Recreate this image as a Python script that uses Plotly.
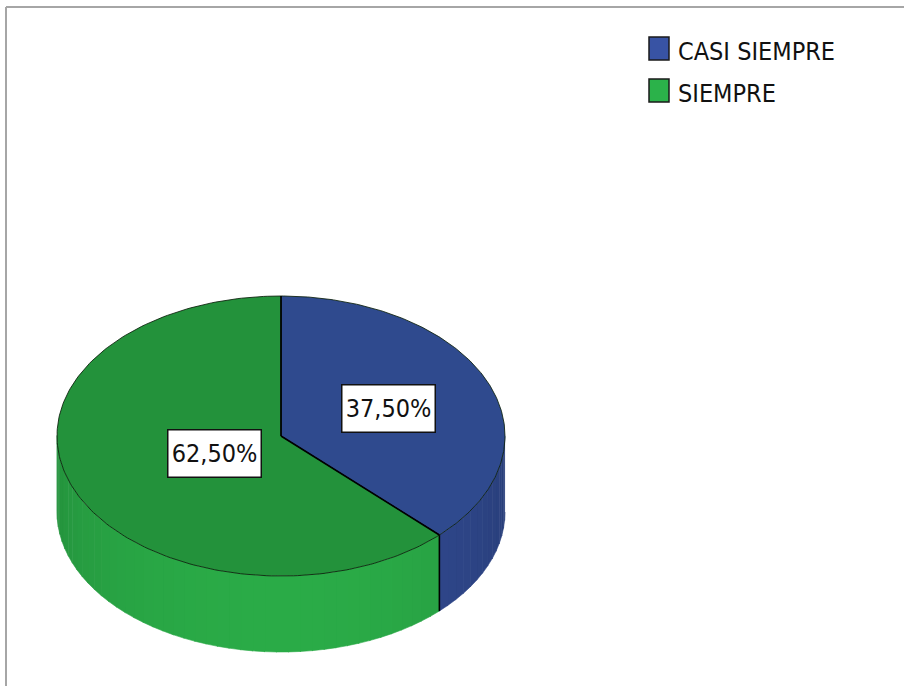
import numpy as np
import plotly.graph_objects as go

# Data
categories = ["CASI SIEMPRE", "SIEMPRE"]
percentages = [37.5, 62.5]

# Styling
top_colors = ["#2f4a8e", "#23923b"]
side_colors = ["#30498f", "#2aab47"]
legend_colors = ["#3853a4", "#2bb24a"]
label_radius = [0.52, 0.32]
FONT = "DejaVu Sans Condensed, Liberation Sans, sans-serif"

W, H = 904, 686
CX, CY, RX, RY, DEPTH = 281, 436, 224, 140, 76


def ellipse_pt(t, dy=0.0):
    """Point on the top rim at angle t (radians, clockwise from 12 o'clock)."""
    t = np.asarray(t)
    return CX + RX * np.sin(t), CY - RY * np.cos(t) + dy


def shade(hex_color, f):
    h = hex_color.lstrip("#")
    r, g, b = (int(h[i:i + 2], 16) for i in (0, 2, 4))
    r, g, b = (min(255, int(round(c * f))) for c in (r, g, b))
    return f"rgb({r},{g},{b})"


fig = go.Figure()

total = sum(percentages)
bounds = np.concatenate([[0.0], np.cumsum(percentages) / total * 2 * np.pi])

# Side wall of the disc (only the front half, 90°..270°, is visible)
for i in range(len(categories)):
    a0, a1 = max(bounds[i], np.pi / 2), min(bounds[i + 1], 3 * np.pi / 2)
    if a1 <= a0:
        continue
    n_strips = max(2, int((a1 - a0) / np.radians(3)))
    edges = np.linspace(a0, a1, n_strips + 1)
    for s in range(n_strips):
        ts = np.linspace(edges[s], edges[s + 1] + 0.004, 6)
        xt, yt = ellipse_pt(ts)
        xb, yb = ellipse_pt(ts[::-1], DEPTH)
        mid = 0.5 * (edges[s] + edges[s + 1])
        f = 0.84 + 0.16 * (-np.cos(mid))
        col = shade(side_colors[i], f)
        fig.add_trace(go.Scatter(
            x=np.concatenate([xt, xb]), y=np.concatenate([yt, yb]),
            fill="toself", fillcolor=col, mode="lines",
            line=dict(width=0.6, color=col), hoverinfo="skip", showlegend=False))

# Vertical seams on the side wall where a slice boundary is visible
for b in bounds[1:-1]:
    if np.pi / 2 < b < 3 * np.pi / 2:
        x0, y0 = ellipse_pt(b)
        fig.add_trace(go.Scatter(
            x=[x0, x0], y=[y0, y0 + DEPTH], mode="lines",
            line=dict(color="black", width=1.6), hoverinfo="skip", showlegend=False))

# Top face slices
for i in range(len(categories)):
    ts = np.linspace(bounds[i], bounds[i + 1], 200)
    xs, ys = ellipse_pt(ts)
    fig.add_trace(go.Scatter(
        x=np.concatenate([[CX], xs, [CX]]), y=np.concatenate([[CY], ys, [CY]]),
        fill="toself", fillcolor=top_colors[i], mode="lines",
        line=dict(color="rgba(10,30,10,0.85)", width=1), hoverinfo="skip",
        name=categories[i], showlegend=False))

# Radial slice boundaries
for b in bounds[:-1]:
    x1, y1 = ellipse_pt(b)
    fig.add_trace(go.Scatter(
        x=[CX, x1], y=[CY, y1], mode="lines",
        line=dict(color="black", width=1.6), hoverinfo="skip", showlegend=False))

# Percentage labels
for i, p in enumerate(percentages):
    mid = 0.5 * (bounds[i] + bounds[i + 1])
    lx = CX + RX * np.sin(mid) * label_radius[i]
    ly = CY - RY * np.cos(mid) * label_radius[i]
    fig.add_annotation(
        x=lx, y=ly, text=f"{p:.2f}%".replace(".", ","), showarrow=False,
        font=dict(family=FONT, size=25, color="#111111"),
        width=86, height=40, align="center", valign="middle",
        bgcolor="white", bordercolor="#111111", borderwidth=1.5, borderpad=3)

# Legend
for i, cat in enumerate(categories):
    y0 = 37 + i * 42
    fig.add_shape(type="rect", x0=649, x1=669, y0=y0, y1=y0 + 23,
                  fillcolor=legend_colors[i], line=dict(color="#1a1a1a", width=1.5))
    fig.add_annotation(x=676, y=y0 + 14, text=cat, showarrow=False, xanchor="left",
                       yanchor="middle", font=dict(family=FONT, size=25, color="#111111"))

# Frame
fig.add_shape(type="line", x0=6, x1=6, y0=7, y1=H, line=dict(color="#a6a6a6", width=2))
fig.add_shape(type="line", x0=6, x1=W, y0=7, y1=7, line=dict(color="#a6a6a6", width=2))

fig.update_layout(
    width=W, height=H, margin=dict(l=0, r=0, t=0, b=0),
    paper_bgcolor="white", plot_bgcolor="white", showlegend=False,
    xaxis=dict(range=[0, W], visible=False, fixedrange=True),
    yaxis=dict(range=[H, 0], visible=False, fixedrange=True),
)

fig.write_html("out.html")
